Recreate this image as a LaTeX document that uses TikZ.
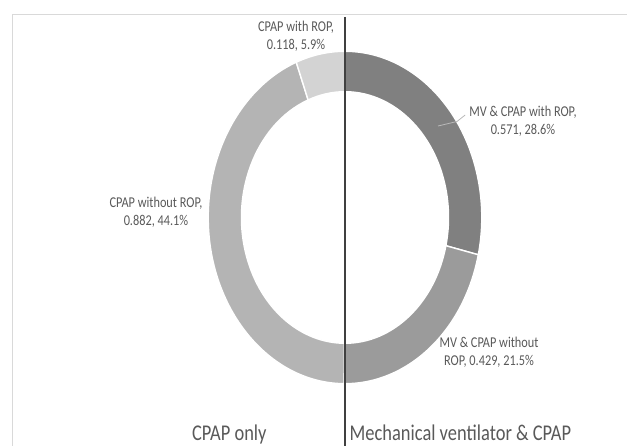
\documentclass[tikz,border=0pt]{standalone}
\usepackage{fontspec}
\setmainfont{Carlito}
\definecolor{txt}{HTML}{595959}
\definecolor{frame}{HTML}{D9D9D9}
\definecolor{segA}{HTML}{808080}
\definecolor{segB}{HTML}{9B9B9B}
\definecolor{segC}{HTML}{B4B4B4}
\definecolor{segD}{HTML}{D3D3D3}
\definecolor{axis}{HTML}{404040}
\tikzset{
  lbl/.style={text=txt, align=center, inner sep=0pt, xscale=0.82, transform shape,
    font=\fontsize{15}{18.3}\selectfont},
  bottomlbl/.style={text=txt, inner sep=0pt, xscale=0.82, transform shape,
    font=\fontsize{22.5}{27}\selectfont},
  seg/.style={draw=white, line width=1.4pt, line join=miter},
}
\begin{document}
\begin{tikzpicture}[x=1pt,y=1pt]
\useasboundingbox (0,0) rectangle (627,446);
% frame
\draw[frame, line width=1pt] (12.5,0) -- (12.5,431.3) -- (627,431.3);
% ring
\begin{scope}[shift={(345,228.5)}, xscale=0.823]
  \def\Ro{166.2pt}\def\Ri{125.8pt}
  \fill[segA, seg] (90:\Ro) arc[start angle=90, end angle=-12.96, radius=\Ro]
     -- (-12.96:\Ri) arc[start angle=-12.96, end angle=90, radius=\Ri] -- cycle;
  \fill[segB, seg] (-12.96:\Ro) arc[start angle=-12.96, end angle=-90.36, radius=\Ro]
     -- (-90.36:\Ri) arc[start angle=-90.36, end angle=-12.96, radius=\Ri] -- cycle;
  \fill[segC, seg] (-90.36:\Ro) arc[start angle=-90.36, end angle=-249.12, radius=\Ro]
     -- (-249.12:\Ri) arc[start angle=-249.12, end angle=-90.36, radius=\Ri] -- cycle;
  \fill[segD, seg] (110.88:\Ro) arc[start angle=110.88, end angle=90, radius=\Ro]
     -- (90:\Ri) arc[start angle=90, end angle=110.88, radius=\Ri] -- cycle;
\end{scope}
% divider line
\coordinate (vtop) at (345,429);
\coordinate (vbot) at (345,0);
\draw[axis, line width=1.3pt] (vtop) -- (vbot);
% labels
\node[lbl] (L1) at (296,410) {CPAP with ROP,\\0.118, 5.9\%};
\node[lbl] (L2) at (523,325) {MV \& CPAP with ROP,\\0.571, 28.6\%};
\node[lbl] (L3) at (156,233.5) {CPAP without ROP,\\0.882, 44.1\%};
\node[lbl] (L4) at (489,93.5) {MV \& CPAP without\\ROP, 0.429, 21.5\%};
% leader
\coordinate (ldr) at (438,320);
\draw[gray!55, line width=0.8pt] (ldr) -- (457,324.5) -- ([xshift=-4pt,yshift=6pt]L2.west);
% bottom labels
\node[bottomlbl, anchor=base west] (B1) at (192,5) {CPAP only};
\node[bottomlbl, anchor=base west] (B2) at (349.5,5) {Mechanical ventilator \& CPAP};
\end{tikzpicture}
\end{document}
